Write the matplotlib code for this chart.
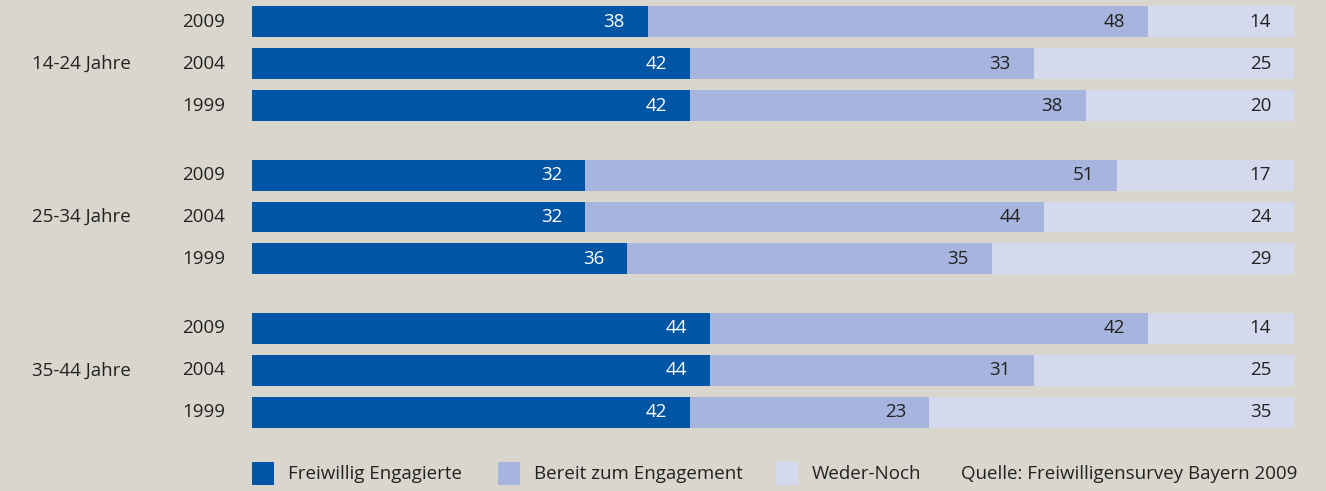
import matplotlib.pyplot as plt
from matplotlib.patches import Rectangle

plt.rcParams['font.family'] = ['Open Sans', 'DejaVu Sans']

groups = ['14-24 Jahre', '25-34 Jahre', '35-44 Jahre']
years = ['2009', '2004', '1999']

# per group, rows in order 2009, 2004, 1999
engagiert = [[38, 42, 42], [32, 32, 36], [44, 44, 42]]
bereit = [[48, 33, 38], [51, 44, 35], [42, 31, 23]]
weder = [[14, 25, 20], [17, 24, 29], [14, 25, 35]]

series_names = ['Freiwillig Engagierte', 'Bereit zum Engagement', 'Weder-Noch']
colors = ['#0055A4', '#A7B4DD', '#D4D9EE']
source = 'Quelle: Freiwilligensurvey Bayern 2009'

bg = '#D9D7CD'
txt = '#222222'
W, H = 1326, 491

fig = plt.figure(figsize=(W / 100, H / 100), dpi=100, facecolor=bg)
ax = fig.add_axes([252 / W, 1 - 433 / H, 1042 / W, 432 / H])
ax.set_facecolor(bg)

group_stride = 3.667
bar_h = 0.74
fs = 13.5

for g, gname in enumerate(groups):
    for i, yr in enumerate(years):
        y = g * group_stride + i
        vals = [engagiert[g][i], bereit[g][i], weder[g][i]]
        left = 0
        for k, v in enumerate(vals):
            ax.barh(y, v, left=left, height=bar_h, color=colors[k], linewidth=0)
            ax.text(left + v - 2.2, y, str(v), ha='right', va='center',
                    fontsize=fs, color='white' if k == 0 else txt)
            left += v
        ax.text(-2.6, y, yr, ha='right', va='center', fontsize=fs, color=txt,
                clip_on=False)
    ax.text(-16.4, g * group_stride + 1, gname, ha='center', va='center',
            fontsize=fs, color=txt, clip_on=False)

ax.set_xlim(0, 100)
ax.set_ylim(2 * group_stride + 2.5, -0.5)
ax.axis('off')

# legend row
leg_x = [252, 498, 776]
for k, name in enumerate(series_names):
    fig.patches.append(Rectangle((leg_x[k] / W, 1 - 485 / H), 22 / W, 23 / H,
                                 transform=fig.transFigure, color=colors[k], linewidth=0))
    fig.text((leg_x[k] + 36) / W, 1 - 474 / H, name, ha='left', va='center',
             fontsize=fs, color=txt)
fig.text(1297 / W, 1 - 474 / H, source, ha='right', va='center', fontsize=fs, color=txt)

fig.savefig('out.png', dpi=100, facecolor=bg)
